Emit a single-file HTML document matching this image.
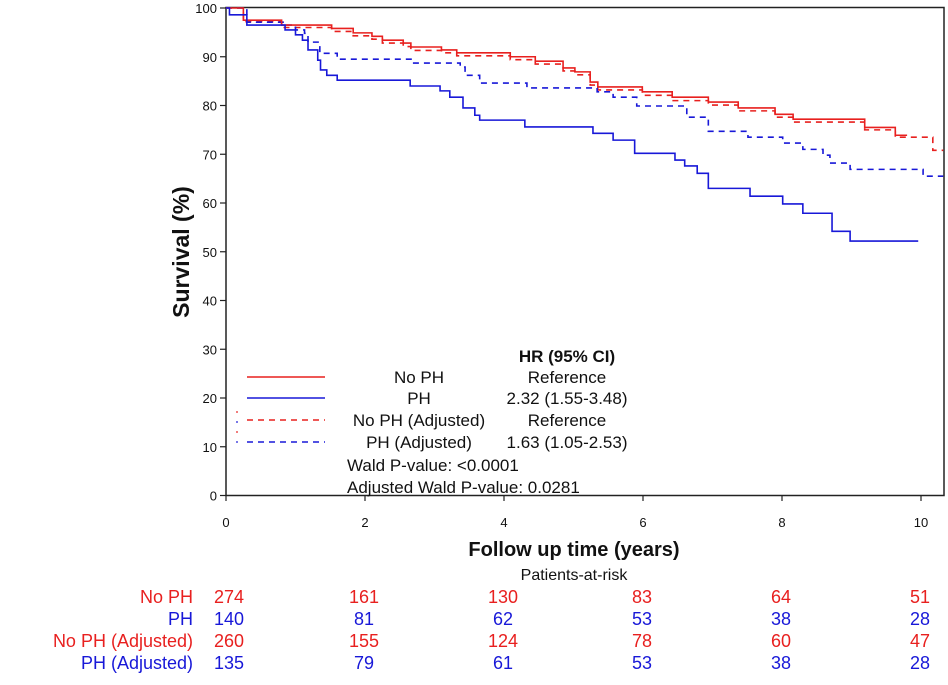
<!DOCTYPE html>
<html><head><meta charset="utf-8"><style>
html,body{margin:0;padding:0;background:#fff;}
svg{display:block;font-family:"Liberation Sans",sans-serif;}
</style></head><body>
<svg id="chart" width="948" height="685" viewBox="0 0 948 685">
<g id="axes"></g>
<g id="series"></g>
<g id="legend">
<line x1="247" y1="377" x2="325" y2="377" stroke="#e8201f" stroke-width="1.6"/>
<line x1="247" y1="398" x2="325" y2="398" stroke="#1818d8" stroke-width="1.6"/>
<line x1="247" y1="420" x2="325" y2="420" stroke="#e8201f" stroke-width="1.6" stroke-dasharray="6,5"/>
<line x1="247" y1="442" x2="325" y2="442" stroke="#1818d8" stroke-width="1.6" stroke-dasharray="6,5"/>
<g font-size="17" fill="#111" text-anchor="middle">
<text x="567" y="362" font-weight="bold">HR (95% CI)</text>
<text x="419" y="383">No PH</text>
<text x="567" y="383">Reference</text>
<text x="419" y="404">PH</text>
<text x="567" y="404">2.32 (1.55-3.48)</text>
<text x="419" y="426">No PH (Adjusted)</text>
<text x="567" y="426">Reference</text>
<text x="419" y="448">PH (Adjusted)</text>
<text x="567" y="448">1.63 (1.05-2.53)</text>
</g>
<g font-size="17" fill="#111">
<text x="347" y="471">Wald P-value: &lt;0.0001</text>
<text x="347" y="493">Adjusted Wald P-value: 0.0281</text>
</g>
<circle cx="237" cy="412" r="0.9" fill="#e8201f"/><circle cx="237" cy="422" r="0.9" fill="#1818d8"/>
<circle cx="237" cy="432" r="0.9" fill="#e8201f"/><circle cx="237" cy="442" r="0.9" fill="#1818d8"/>
</g>
<g id="risk"></g>
</svg>
<script>
const xTicks=[0,2,4,6,8,10];
const yTicks=[0,10,20,30,40,50,60,70,80,90,100];
// step times (years) and survival (%)
const noPhT=[0,0.25,0.8,1.52,1.83,2.1,2.25,2.55,2.66,3.1,3.32,4.09,4.45,4.85,5.02,5.24,5.35,5.99,6.42,6.94,7.37,7.9,8.16,9.19,9.63,9.8];
const noPhS=[100,97.5,96.5,95.8,94.9,94.2,93.4,92.8,92,91.4,90.8,90,89.1,87.7,86.9,84.8,83.8,82.8,81.7,80.7,79.5,78.2,77.2,75.5,73.9,73.9];
const phT=[0,0.05,0.3,0.85,1.0,1.1,1.18,1.32,1.36,1.45,1.6,2.65,3.08,3.22,3.41,3.58,3.65,4.3,5.28,5.57,5.88,6.46,6.6,6.78,6.94,7.54,8.01,8.3,8.72,8.98,9.96];
const phS=[100,98.6,96.5,95.5,94.5,93.4,91.4,89.3,87.3,86.2,85.2,84,83,81.7,79.5,78,77,75.6,74.3,72.9,70.2,68.8,67.6,66.1,63,61.4,59.8,57.9,54.2,52.2,52.2];
const noPhAdjT=[0,0.25,0.8,1.52,1.83,2.1,2.25,2.55,2.66,3.1,3.32,4.09,4.45,4.85,5.02,5.24,5.35,5.99,6.42,6.94,7.37,7.9,8.16,9.19,9.63,10.17,10.32];
const noPhAdjS=[100,97.2,96.0,95.2,94.3,93.6,92.8,92.1,91.3,90.8,90.2,89.4,88.5,87.1,86.3,84.2,83.2,82.1,81.0,80.1,78.9,77.6,76.6,75.0,73.5,70.8,70.8];
const phAdjT=[0,0.3,0.85,1.0,1.13,1.18,1.35,1.6,2.68,3.37,3.44,3.65,4.33,5.34,5.57,5.91,6.63,6.94,7.51,8.01,8.3,8.59,8.69,8.98,10.03,10.32];
const phAdjS=[100,97.1,96.5,95.5,94.8,93,90.7,89.5,88.7,87.9,86.2,84.6,83.6,82.8,81.7,79.9,77.6,74.7,73.5,72.3,71,69.8,68.2,66.9,65.5,65.5];
const riskLabels=["No PH","PH","No PH (Adjusted)","PH (Adjusted)"];
const riskNoPh=[274,161,130,83,64,51];
const riskPh=[140,81,62,53,38,28];
const riskNoPhAdj=[260,155,124,78,60,47];
const riskPhAdj=[135,79,61,53,38,28];

const NS="http://www.w3.org/2000/svg";
const X0=226,XS=69.5,Y0=495.5,YS=4.875;
const xs=t=>X0+t*XS, ys=v=>Y0-v*YS;
function mk(tag,attrs,parent,text){const e=document.createElementNS(NS,tag);for(const k in attrs)e.setAttribute(k,attrs[k]);if(text!==undefined)e.textContent=text;parent.appendChild(e);return e;}
const axes=document.getElementById('axes');
const frame=mk('rect',{x:226,y:7.5,width:718,height:488,fill:'none',stroke:'#222','stroke-width':1.5},axes);


xTicks.forEach(t=>{
 const l=mk('line',{x1:xs(t),x2:xs(t),y1:495.5,y2:501,stroke:'#222','stroke-width':1.2},axes);
 
 
 const tx=mk('text',{x:xs(t),y:527,'font-size':13,'text-anchor':'middle',fill:'#111'},axes,String(t));
 
 
});
yTicks.forEach(v=>{
 const l=mk('line',{x1:220,x2:226,y1:ys(v),y2:ys(v),stroke:'#222','stroke-width':1.2},axes);
 
 
 const tx=mk('text',{x:217,y:ys(v)+5,'font-size':13,'text-anchor':'end',fill:'#111'},axes,String(v));
 
 
});
const yt=mk('text',{x:0,y:0,'font-size':23,'font-weight':'bold','text-anchor':'middle',fill:'#111',transform:'translate(189,252) rotate(-90)'},axes,'Survival (%)');


const xt=mk('text',{x:574,y:556,'font-size':20,'font-weight':'bold','text-anchor':'middle',fill:'#111'},axes,'Follow up time (years)');



const series=document.getElementById('series');
function step(T,S,color,dash,name){
 let d='M'+xs(T[0])+','+ys(S[0]);
 for(let i=1;i<T.length;i++){d+=' H'+xs(T[i])+' V'+ys(S[i]);}
 const p=mk('path',{d:d,fill:'none',stroke:color,'stroke-width':1.6},series);
 if(dash)p.setAttribute('stroke-dasharray',dash);
 
 
}
step(noPhAdjT,noPhAdjS,'#e8201f','6,5','curve-no-ph-adjusted');
step(phAdjT,phAdjS,'#1818d8','6,5','curve-ph-adjusted');
step(noPhT,noPhS,'#e8201f',null,'curve-no-ph');
step(phT,phS,'#1818d8',null,'curve-ph');

const risk=document.getElementById('risk');
const rt=mk('text',{x:574,y:580,'font-size':16,'text-anchor':'middle',fill:'#111'},risk,'Patients-at-risk');


const rows=[riskNoPh,riskPh,riskNoPhAdj,riskPhAdj];
const cols=['#e8201f','#1818d8','#e8201f','#1818d8'];
rows.forEach((r,i)=>{
 const y=603+i*22;
 const lb=mk('text',{x:193,y:y,'font-size':18,'text-anchor':'end',fill:cols[i]},risk,riskLabels[i]);
 
 
 r.forEach((n,j)=>{
  const c=mk('text',{x:xs(xTicks[j])+(j===0?3:-1),y:y,'font-size':18,'text-anchor':'middle',fill:cols[i]},risk,String(n));
  
  
 });
});
</script>
</body></html>
